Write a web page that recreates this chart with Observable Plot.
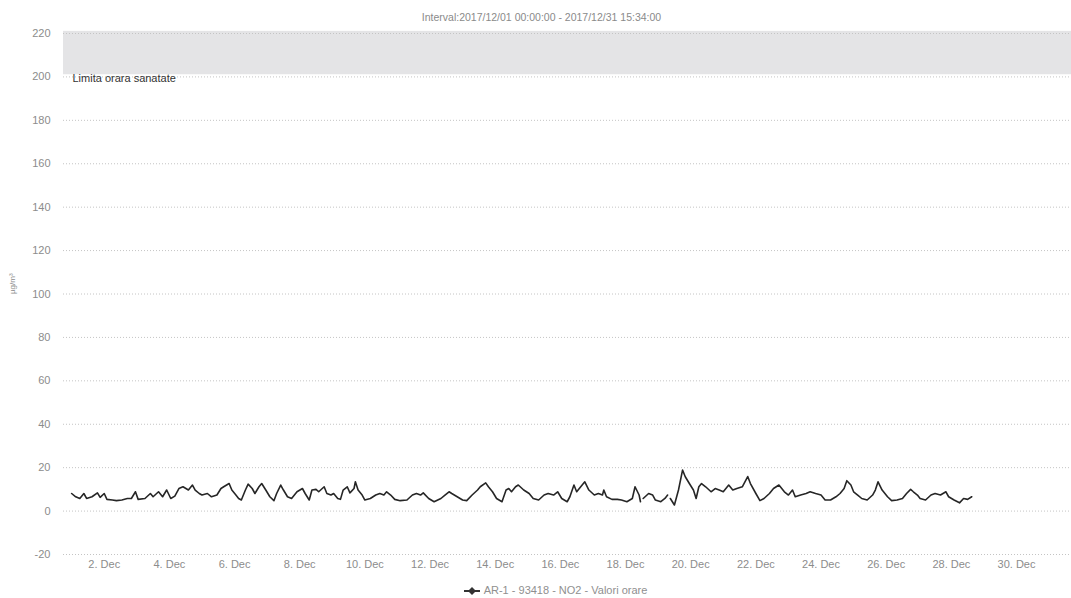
<!DOCTYPE html>
<html><head><meta charset="utf-8">
<script src="https://cdn.jsdelivr.net/npm/d3@7"></script>
<script src="https://cdn.jsdelivr.net/npm/@observablehq/plot@0.6"></script>
<style>
html,body{margin:0;padding:0;background:#fff;}
body{width:1071px;height:598px;overflow:hidden;font-family:"Liberation Sans",Arial,sans-serif;}
#title{box-sizing:border-box;height:24px;padding-top:11px;padding-left:12px;font-size:10.5px;line-height:12px;color:#8a8a8a;text-align:center;}
#legend{box-sizing:border-box;height:19px;padding-top:5px;padding-left:40px;font-size:11px;line-height:13px;color:#8f8f8f;text-align:center;}
#legend svg{vertical-align:middle;margin-right:4px;}
</style></head><body>
<div id="title">Interval:2017/12/01 00:00:00 - 2017/12/31 15:34:00</div>
<div id="chart"></div>
<div id="legend"><svg width="16" height="10"><line x1="0" y1="5" x2="16" y2="5" stroke="#333" stroke-width="2"/><path d="M8,1 L12,5 L8,9 L4,5Z" fill="#333"/></svg><span id="legendText"></span></div>
<script>
// hours since 2017-12-01 00:00 and hourly NO2 readings (µg/m³)
const hours = [0,3,6,9,11,15,19,21,24,26,30,33,37,41,44,47,49,54,58,60,64,67,70,73,76,79,82,86,89,91,94,96,100,103,107,110,112,116,118,121,123,125,128,130,133,135,138,140,143,146,149,151,154,156,159,162,166,170,172,175,177,180,182,186,188,191,193,196,198,200,203,205,208,209,211,214,216,220,224,227,230,232,235,238,242,247,251,254,257,259,263,267,272,275,278,280,284,288,291,295,299,301,305,307,310,313,317,320,322,324,327,329,333,337,340,344,348,351,355,358,361,365,367,370,372,375,378,381,385,388,391,392,394,398,402,405,409,413,415,418,419,420,421,425,428,430,434,437,439,440,441,444,447,450,452,455,458,460,462,464,467,471,474,477,480,484,487,490,494,498,500,504,507,510,514,517,521,525,528,531,533,537,541,544,548,552,555,559,563,566,569,571,574,576,579,582,586,590,592,594,597,601,604,608,612,615,618,620,623,625,629,633,636,640,644,646,650,654,657,660,663];
const values = [8.1,6.6,5.8,8.1,5.8,6.6,8.4,6.3,8.1,5.4,5.1,4.8,5.1,5.8,5.8,8.9,5.4,5.8,8.1,6.6,8.9,6.6,9.7,5.8,6.9,10.4,11.2,9.7,12.0,9.7,8.1,7.4,8.1,6.6,7.4,10.4,11.2,12.7,9.7,7.4,5.8,5.1,9.7,12.4,10.4,8.1,11.2,12.7,9.7,6.6,4.8,8.1,12.0,9.7,6.6,5.8,8.9,10.4,8.1,5.1,9.7,10.0,8.9,11.2,8.1,7.4,8.1,5.8,5.4,9.7,11.2,8.4,10.4,13.5,9.7,7.4,5.1,5.8,7.4,8.1,7.4,8.9,7.4,5.4,4.8,5.1,7.4,8.1,7.4,8.4,5.8,4.3,5.8,7.4,8.9,8.1,6.6,5.1,4.8,7.4,9.7,11.2,13.0,11.2,8.9,5.8,4.3,9.7,10.4,8.9,11.2,12.0,9.7,8.1,5.8,5.1,7.4,8.1,7.4,8.9,5.8,4.3,6.6,12.0,8.9,11.2,13.5,9.7,7.4,8.1,7.4,9.7,6.6,5.4,5.4,5.1,4.3,5.8,11.2,7.4,4.3,null,5.8,8.1,7.4,5.1,4.3,5.8,7.4,null,5.8,2.8,9.7,18.9,15.8,12.7,9.7,5.8,11.2,12.7,11.2,8.9,10.4,9.7,8.9,12.0,9.7,10.4,11.2,15.9,12.7,8.1,4.8,5.8,8.1,10.4,12.0,8.9,7.4,9.7,6.6,7.4,8.1,8.9,8.1,7.4,5.1,5.1,6.6,8.1,10.4,14.0,12.0,8.9,7.4,5.8,5.1,7.4,9.7,13.5,9.7,6.6,4.8,5.1,5.8,8.1,10.0,8.9,7.4,5.8,5.1,7.4,8.1,7.4,8.9,6.6,5.1,3.8,5.8,5.4,6.6];
const yTicks = [-20,0,20,40,60,80,100,120,140,160,180,200,220];
const xTickDays = [2,4,6,8,10,12,14,16,18,20,22,24,26,28,30];
const xDomain = ["2017-11-30T18:00:00Z","2017-12-31T16:30:00Z"];
const limitBand = [201, 221]; // "Limita orara sanatate" band (200 µg/m³ hourly limit)
const limitLabel = "Limita orara sanatate";
const limitLevel = 200;
const yLabel = "µg/m³";
const seriesName = "AR-1 - 93418 - NO2 - Valori orare";

document.getElementById("legendText").textContent = seriesName;

const start = Date.UTC(2017, 11, 1);
const data = hours.map((h, i) => ({date: new Date(start + h * 3600e3), value: values[i]}));
const xTicks = xTickDays.map(d => new Date(Date.UTC(2017, 11, d)));
const xd = xDomain.map(s => new Date(s));

const chart = Plot.plot({
  width: 1071,
  height: 555,
  marginTop: 9,
  marginBottom: 25,
  marginLeft: 63,
  marginRight: 0,
  style: {fontFamily: '"Liberation Sans", Arial, sans-serif', fontSize: "11px", color: "#8c8c8c", background: "#fff"},
  x: {type: "utc", domain: xd},
  y: {domain: [-20, 220]},
  marks: [
    Plot.rect([{x1: xd[0], x2: xd[1], y1: limitBand[0], y2: limitBand[1]}], {x1: "x1", x2: "x2", y1: "y1", y2: "y2", fill: "#e4e4e6"}),
    Plot.ruleY(yTicks, {stroke: "#c4c4c4", strokeWidth: 1, strokeDasharray: "1,2"}),
    Plot.axisY({ticks: yTicks, tickSize: 0, tickPadding: 13, label: null, tickFormat: d => String(d)}),
    Plot.axisX({ticks: xTicks, tickSize: 0, tickPadding: 6, label: null, tickFormat: d => `${d.getUTCDate()}. Dec`}),
    Plot.text([yLabel], {frameAnchor: "left", dx: -51, rotate: -90, fontSize: 8, fill: "#8c8c8c"}),
    Plot.text([limitLabel], {x: () => xd[0], y: () => limitLevel, frameAnchor: "left", dx: 9, dy: 2, textAnchor: "start", lineAnchor: "middle", fill: "#333", fontSize: 11}),
    Plot.line(data, {x: "date", y: "value", stroke: "#262626", strokeWidth: 1.6, curve: "linear"})
  ]
});
document.getElementById("chart").appendChild(chart);
</script>
</body></html>
